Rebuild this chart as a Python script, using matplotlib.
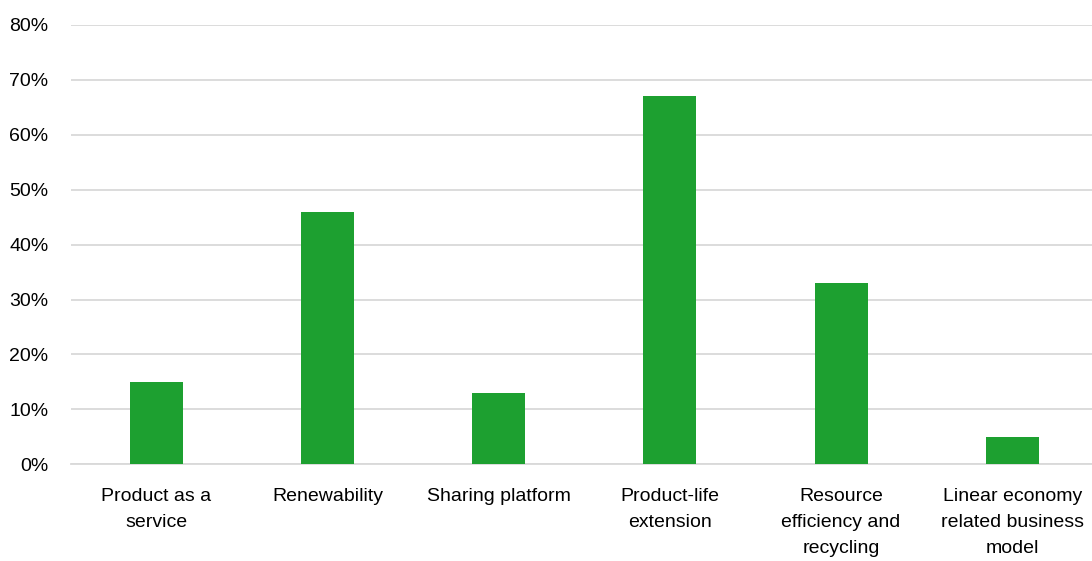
import matplotlib.pyplot as plt
from matplotlib.ticker import PercentFormatter

categories = [
    "Product as a\nservice",
    "Renewability",
    "Sharing platform",
    "Product-life\nextension",
    "Resource\nefficiency and\nrecycling",
    "Linear economy\nrelated business\nmodel",
]
shares = [15, 46, 13, 67, 33, 5]
y_ticks = [0, 10, 20, 30, 40, 50, 60, 70, 80]

plt.rcParams['font.family'] = ['Liberation Sans', 'DejaVu Sans']

fig = plt.figure(figsize=(10.92, 5.61), dpi=100)
W, H = 1092, 561
ax = fig.add_axes([70.6 / W, 96.7 / H, 1027.3 / W, 439.3 / H])

x = range(len(categories))
ax.bar(x, shares, width=0.31, color='#1da030', zorder=3)

ax.set_xlim(-0.5, len(categories) - 0.5)
ax.set_ylim(0, 80)
ax.set_yticks(y_ticks)
ax.yaxis.set_major_formatter(PercentFormatter(decimals=0))
ax.set_xticks(list(x))
ax.set_xticklabels(categories, linespacing=1.68)

ax.grid(axis='y', color='#d9d9d9', linewidth=1.3, zorder=0)
for side in ['top', 'right', 'left']:
    ax.spines[side].set_visible(False)
ax.spines['bottom'].set_color('#d9d9d9')
ax.spines['bottom'].set_linewidth(1.3)
ax.tick_params(axis='both', length=0, labelsize=14, colors='#000000')
ax.tick_params(axis='y', pad=16)
ax.tick_params(axis='x', pad=17)

fig.savefig('out.png', dpi=100)
